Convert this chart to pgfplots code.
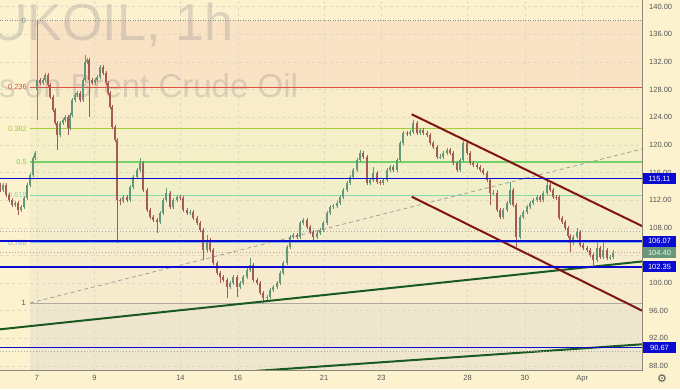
\documentclass[border=0pt]{standalone}
\usepackage{pgfplots}
\pgfplotsset{compat=1.18}
\usepackage{pgfplotstable}
\usepackage{fontspec}
\setmainfont{Liberation Sans}
\newfontfamily\symfont{DejaVu Sans}
\definecolor{bgc}{RGB}{253,242,206}
\definecolor{bA}{RGB}{250,226,196}
\definecolor{bB}{RGB}{248,237,200}
\definecolor{bC}{RGB}{244,239,198}
\definecolor{bD}{RGB}{241,239,200}
\definecolor{bE}{RGB}{244,237,204}
\definecolor{bF}{RGB}{246,235,205}
\definecolor{bG}{RGB}{239,230,207}
\definecolor{gridc}{RGB}{226,216,192}
\definecolor{axc}{RGB}{140,135,120}
\definecolor{labc}{RGB}{85,85,85}
\definecolor{upc}{RGB}{100,150,120}
\definecolor{dnc}{RGB}{165,90,85}
\definecolor{lvl0}{RGB}{140,140,140}
\definecolor{lvlA}{RGB}{220,80,70}
\definecolor{lvlB}{RGB}{165,205,55}
\definecolor{lvlC}{RGB}{115,210,105}
\definecolor{lvlD}{RGB}{135,220,170}
\definecolor{lvlE}{RGB}{120,185,235}
\definecolor{lvlF}{RGB}{175,170,160}
\definecolor{bluel}{RGB}{10,10,210}
\definecolor{greenl}{RGB}{25,90,35}
\definecolor{redl}{RGB}{130,20,20}
\definecolor{dashc}{RGB}{160,160,160}
\definecolor{dotc}{RGB}{170,170,165}
\definecolor{curc}{RGB}{105,152,122}
\definecolor{wmc}{RGB}{120,123,134}

\pgfplotstableread{
d o h l c
-1.289 114.20 114.55 113.12 113.47
-1.185 113.47 114.55 113.12 114.20
-1.080 114.20 114.55 112.40 112.75
-0.976 112.75 113.10 111.68 112.03
-0.871 112.03 112.38 110.95 111.30
-0.767 111.30 111.94 110.95 111.59
-0.662 111.59 111.94 109.90 110.58
-0.557 110.58 111.36 110.23 111.01
-0.453 111.01 112.67 110.66 112.32
-0.348 112.32 114.55 111.97 114.20
-0.244 114.20 115.99 113.85 115.64
-0.139 115.64 118.45 115.29 118.10
-0.070 118.10 119.18 117.75 118.83
0.000 127.95 138.08 123.60 129.39
0.105 129.39 129.74 128.61 128.96
0.209 128.96 129.74 128.61 129.39
0.279 129.39 130.47 129.04 130.12
0.383 130.12 130.47 128.32 128.67
0.453 128.67 129.02 126.58 126.93
0.557 126.93 127.28 124.70 125.05
0.627 125.05 125.40 122.82 123.17
0.697 123.17 123.52 119.26 121.43
0.801 121.43 123.52 121.08 123.17
0.906 123.17 123.95 122.82 123.60
0.976 123.60 124.39 123.25 124.04
1.080 124.04 124.39 121.43 122.45
1.150 122.45 124.68 122.10 124.33
1.220 124.33 126.85 123.98 126.50
1.324 126.50 127.57 126.15 127.22
1.394 127.22 127.86 126.87 127.51
1.498 127.51 127.86 126.15 126.50
1.603 126.50 129.74 126.15 129.39
1.672 129.39 133.01 129.04 132.00
1.742 132.00 132.64 131.65 132.29
1.812 132.29 132.64 124.04 129.39
1.916 129.39 129.74 128.61 128.96
2.021 128.96 129.74 128.61 129.39
2.091 129.39 130.18 129.04 129.83
2.195 129.83 131.62 129.48 131.27
2.300 131.27 131.62 130.06 130.41
2.404 130.41 130.76 128.61 128.96
2.474 128.96 129.31 127.16 127.51
2.544 127.51 127.86 125.13 125.48
2.613 125.48 125.83 122.24 122.59
2.718 122.59 122.94 120.36 120.71
2.787 120.71 121.06 105.80 112.03
2.892 112.03 112.38 111.30 111.90
2.997 111.90 112.81 111.55 112.46
3.136 112.46 112.81 111.68 112.03
3.240 112.03 114.26 111.68 113.91
3.345 113.91 115.70 113.56 115.35
3.484 115.35 116.72 115.00 116.37
3.589 116.37 118.10 116.02 117.38
3.693 117.38 117.73 113.12 113.47
3.833 113.47 113.82 110.23 110.58
3.937 110.58 110.93 109.22 109.57
4.042 109.57 109.92 108.78 109.13
4.181 109.13 109.48 107.25 108.84
4.286 108.84 110.49 108.49 110.14
4.390 110.14 112.38 109.79 112.03
4.495 112.03 113.76 111.68 113.04
4.634 113.04 113.39 110.66 111.01
4.739 111.01 112.38 110.66 112.03
4.878 112.03 112.81 111.68 112.46
4.983 112.46 112.81 111.97 112.32
5.087 112.32 112.67 110.23 110.58
5.226 110.58 110.93 109.79 110.14
5.331 110.14 110.64 109.79 110.29
5.436 110.29 110.64 109.07 109.42
5.575 109.42 109.77 108.35 108.70
5.679 108.70 109.05 107.33 107.68
5.784 107.68 108.03 103.34 104.79
5.923 104.79 106.96 104.44 106.24
6.028 106.24 106.59 104.44 104.79
6.132 104.79 105.14 102.56 102.91
6.272 102.91 103.26 101.11 101.46
6.376 101.46 101.81 100.01 100.88
6.481 100.88 101.23 100.10 100.45
6.620 100.45 100.80 97.84 99.44
6.725 99.44 100.36 99.09 100.01
6.829 100.01 101.23 99.66 100.88
6.969 100.88 101.23 97.99 99.44
7.073 99.44 100.36 99.09 100.01
7.178 100.01 101.23 99.66 100.88
7.317 100.88 102.25 100.53 101.90
7.422 101.90 103.63 101.55 102.62
7.526 102.62 102.97 100.10 100.45
7.666 100.45 100.80 99.66 100.01
7.770 100.01 100.36 98.22 98.57
7.875 98.57 98.92 97.12 97.84
8.014 97.84 98.34 97.49 97.99
8.118 97.99 99.35 97.64 99.00
8.223 99.00 99.79 98.65 99.44
8.362 99.44 100.36 99.09 100.01
8.467 100.01 101.81 99.66 101.46
8.571 101.46 103.26 101.11 102.91
8.711 102.91 105.57 102.56 105.22
8.815 105.22 107.02 104.87 106.67
8.920 106.67 107.31 106.32 106.96
9.059 106.96 107.31 106.32 106.67
9.164 106.67 109.05 106.32 108.70
9.268 108.70 109.42 108.35 109.13
9.408 109.13 109.48 107.77 108.12
9.512 108.12 108.47 107.05 107.40
9.617 107.40 107.75 105.95 106.67
9.756 106.67 107.60 106.32 107.25
9.861 107.25 108.03 106.90 107.68
9.965 107.68 109.05 107.33 108.70
10.105 108.70 110.49 108.35 110.14
10.209 110.14 111.36 109.79 111.01
10.314 111.01 111.50 110.66 111.15
10.453 111.15 111.94 110.80 111.59
10.557 111.59 112.81 111.24 112.46
10.662 112.46 113.82 112.11 113.47
10.801 113.47 114.84 113.12 114.49
10.906 114.49 115.70 114.14 115.35
11.010 115.35 116.72 115.00 116.37
11.150 116.37 118.17 116.02 117.82
11.254 117.82 119.26 117.47 118.83
11.359 118.83 119.18 117.90 118.25
11.498 118.25 118.60 114.14 114.49
11.603 114.49 115.27 114.14 114.92
11.707 114.92 116.80 114.57 115.93
11.847 115.93 116.28 114.28 114.63
11.951 114.63 114.98 114.14 114.49
12.056 114.49 115.27 114.14 114.92
12.195 114.92 116.72 114.57 116.37
12.300 116.37 117.15 116.02 116.80
12.404 116.80 117.15 116.02 116.37
12.544 116.37 118.17 116.02 117.82
12.648 117.82 120.63 117.47 120.28
12.753 120.28 122.07 119.93 121.72
12.892 121.72 122.07 121.25 121.60
12.997 121.60 122.22 121.25 121.87
13.101 121.87 123.60 121.52 123.17
13.240 123.17 123.52 121.37 121.72
13.345 121.72 122.51 121.37 122.16
13.449 122.16 122.51 121.37 121.72
13.589 121.72 122.07 121.08 121.43
13.693 121.43 121.78 119.93 120.28
13.798 120.28 120.63 119.35 119.70
13.937 119.70 120.05 117.90 118.25
14.042 118.25 118.65 117.90 118.30
14.146 118.30 119.18 117.95 118.83
14.286 118.83 119.61 118.48 119.26
14.390 119.26 119.61 118.48 118.83
14.495 118.83 119.18 117.03 117.38
14.634 117.38 117.73 116.02 116.37
14.739 116.37 118.17 116.02 117.82
14.843 117.82 120.63 117.47 120.28
14.983 120.28 120.63 118.48 118.83
15.087 118.83 119.18 117.03 117.38
15.192 117.38 117.73 116.74 117.09
15.331 117.09 117.44 116.45 116.80
15.436 116.80 117.15 116.02 116.37
15.540 116.37 116.72 115.58 115.93
15.679 115.93 116.28 114.57 114.92
15.784 114.92 115.27 111.30 113.04
15.889 113.04 113.45 112.69 113.10
16.028 113.10 113.45 110.23 110.58
16.132 110.58 110.93 109.22 109.57
16.237 109.57 110.93 109.22 110.58
16.376 110.58 111.94 110.23 111.59
16.481 111.59 114.63 111.24 113.47
16.585 113.47 113.82 110.95 111.30
16.690 111.30 111.65 105.22 106.67
16.829 106.67 109.92 106.32 109.57
16.934 109.57 110.64 109.22 110.29
17.073 110.29 111.36 109.94 111.01
17.178 111.01 111.94 110.66 111.59
17.282 111.59 112.38 111.24 112.03
17.422 112.03 112.81 111.68 112.46
17.526 112.46 112.81 111.68 112.03
17.631 112.03 113.39 111.68 113.04
17.770 113.04 114.92 112.69 114.20
17.875 114.20 114.55 113.12 113.47
17.979 113.47 113.82 112.11 112.46
18.084 112.46 112.81 112.05 112.40
18.188 112.40 112.75 109.07 109.42
18.293 109.42 109.77 108.49 108.84
18.397 108.84 109.19 107.62 107.97
18.502 107.97 108.32 106.47 106.82
18.571 106.82 107.17 104.50 105.80
18.676 105.80 107.02 105.45 106.67
18.815 106.67 107.97 106.32 107.40
18.920 107.40 107.75 105.16 105.51
19.024 105.51 105.86 104.73 105.08
19.164 105.08 105.43 104.44 104.79
19.268 104.79 105.14 103.72 104.07
19.373 104.07 104.42 102.62 103.34
19.512 103.34 105.95 102.99 105.08
19.617 105.08 105.43 103.43 103.78
19.721 103.78 105.95 103.43 104.79
19.861 104.79 105.14 103.28 103.63
19.965 103.63 104.13 103.28 103.78
20.070 103.78 104.75 103.43 104.40
}\candles

\begin{document}
\begin{tikzpicture}
\fill[bgc] (0,-19pt) rectangle (680pt,370pt);
\begin{axis}[
  at={(0,0)}, anchor=south west,
  scale only axis, width=642pt, height=370pt,
  xmin=-1.289, xmax=21.08, ymin=87.42, ymax=140.97,
  axis line style={draw=none},
  yticklabel pos=right, xticklabel pos=bottom,
  xtick={0,2,5,7,10,12,15,17,19},
  xticklabels={7,9,14,16,21,23,28,30,Apr},
  ytick={88,92,96,100,104,108,112,116,120,124,128,132,136,140},
  yticklabels={88.00,92.00,96.00,100.00,104.00,108.00,112.00,116.00,120.00,124.00,128.00,132.00,136.00,140.00},
  major tick length=0pt, tick style={draw=none},
  tick label style={font=\fontsize{7.5}{9}\selectfont, text=labc, inner sep=0pt},
  xticklabel style={anchor=north, yshift=-5pt},
  yticklabel style={anchor=west, xshift=7pt},
  clip mode=individual,
]
% fib bands
\fill[bA] (axis cs:-0.244,128.33) rectangle (axis cs:21.08,137.98);
\fill[bB] (axis cs:-0.244,122.36) rectangle (axis cs:21.08,128.33);
\fill[bC] (axis cs:-0.244,117.53) rectangle (axis cs:21.08,122.36);
\fill[bD] (axis cs:-0.244,112.70) rectangle (axis cs:21.08,117.53);
\fill[bE] (axis cs:-0.244,105.83) rectangle (axis cs:21.08,112.70);
\fill[bF] (axis cs:-0.244,97.08) rectangle (axis cs:21.08,105.83);
\fill[bG] (axis cs:-0.244,87.42) rectangle (axis cs:21.08,97.08);
% grid
\pgfplotsinvokeforeach{0,2,5,7,10,12,15,17,19}{
  \draw[gridc, dash pattern=on 3pt off 3pt, line width=0.5pt] (axis cs:#1,87.42) -- (axis cs:#1,140.97);}
\pgfplotsinvokeforeach{88,92,96,100,104,108,112,116,120,124,128,132,136,140}{
  \draw[gridc, dash pattern=on 3pt off 3pt, line width=0.5pt] (axis cs:-1.289,#1) -- (axis cs:21.08,#1);}
% dotted price lines
\addplot[dotc, dash pattern=on 1pt off 2pt, line width=0.6pt] coordinates {(-1.289,107.45) (21.08,107.45)};
\addplot[dotc, dash pattern=on 1pt off 2pt, line width=0.6pt] coordinates {(-1.289,104.40) (21.08,104.40)};
\addplot[dotc, dash pattern=on 1pt off 2pt, line width=0.6pt] coordinates {(-1.289,90.10) (21.08,90.10)};
% watermark
\node[anchor=base west, inner sep=0pt, text=wmc, text opacity=0.25, font=\fontsize{52}{52}\selectfont] at (axis cs:-1.638,135.04) {UKOIL, 1h};
\node[anchor=base west, inner sep=0pt, text=wmc, text opacity=0.25, font=\fontsize{33}{33}\selectfont] at (axis cs:-3.693,126.79) {CFDs on Brent Crude Oil};
% fib levels
\addplot[lvl0, dash pattern=on 1pt off 1.5pt, line width=0.8pt] coordinates {(-1.289,137.98) (21.08,137.98)};
\addplot[lvlA, line width=0.9pt] coordinates {(-0.244,128.33) (21.08,128.33)};
\addplot[lvlB, line width=1pt] coordinates {(-0.244,122.36) (21.08,122.36)};
\addplot[lvlC, line width=1.5pt] coordinates {(-0.244,117.53) (21.08,117.53)};
\addplot[lvlD, line width=1.1pt] coordinates {(-0.244,112.70) (21.08,112.70)};
\addplot[lvlE, line width=1.3pt] coordinates {(-0.244,105.83) (21.08,105.83)};
\addplot[lvlF, line width=1pt] coordinates {(-0.244,97.08) (21.08,97.08)};
\begin{scope}[font=\fontsize{7.5}{9}\selectfont]
\node[anchor=east, text=lvl0, inner sep=0pt] at ([xshift=-4pt]axis cs:-0.244,137.98) {0};
\node[anchor=east, text=lvlA, inner sep=0pt] at ([xshift=-3pt]axis cs:-0.244,128.33) {0.236};
\node[anchor=east, text=lvlB, inner sep=0pt] at ([xshift=-3pt]axis cs:-0.244,122.36) {0.382};
\node[anchor=east, text=lvlC, inner sep=0pt] at ([xshift=-3pt]axis cs:-0.244,117.53) {0.5};
\node[anchor=east, text=lvlD, inner sep=0pt] at ([xshift=-3pt]axis cs:-0.244,112.70) {0.618};
\node[anchor=east, text=lvlE, inner sep=0pt] at ([xshift=-3pt]axis cs:-0.244,105.83) {0.786};
\node[anchor=east, text=labc, inner sep=0pt] at ([xshift=-4pt]axis cs:-0.244,97.08) {1};
\end{scope}
% dashed trend
\addplot[dashc, dash pattern=on 4pt off 3pt, line width=0.8pt] coordinates {(-0.244,97.12) (21.08,119.41)};
% candles: wicks and bodies as vertical segments
\addplot[upc, line width=0.5pt, mark=none, forget plot, quiver={u=0, v=\thisrow{h}-\thisrow{l}}]
  table[x=d, y expr={\thisrow{c}>=\thisrow{o} ? \thisrow{l} : nan}] {\candles};
\addplot[dnc, line width=0.5pt, mark=none, forget plot, quiver={u=0, v=\thisrow{h}-\thisrow{l}}]
  table[x=d, y expr={\thisrow{c}<\thisrow{o} ? \thisrow{l} : nan}] {\candles};
\addplot[upc, line width=1.5pt, line cap=butt, mark=none, forget plot, quiver={u=0, v=\thisrow{c}-\thisrow{o}}]
  table[x=d, y expr={\thisrow{c}>=\thisrow{o} ? \thisrow{o} : nan}] {\candles};
\addplot[dnc, line width=1.5pt, line cap=butt, mark=none, forget plot, quiver={u=0, v=\thisrow{o}-\thisrow{c}}]
  table[x=d, y expr={\thisrow{c}<\thisrow{o} ? \thisrow{c} : nan}] {\candles};
% trend lines
\addplot[greenl, line width=2pt] coordinates {(-1.289,93.31) (21.08,103.13)};
\addplot[greenl, line width=2pt] coordinates {(5.0,86.53) (21.08,91.14)};
\addplot[redl, line width=2pt] coordinates {(13.056,124.43) (21.08,108.26)};
\addplot[redl, line width=2pt] coordinates {(13.056,112.50) (21.08,96.01)};
% blue horizontal levels
\addplot[draw=bluel, line width=1.4pt] coordinates {(-1.289,115.11) (21.08,115.11)};
\addplot[draw=bluel, line width=1.4pt] coordinates {(-1.289,106.07) (21.08,106.07)};
\addplot[draw=bluel, line width=1.4pt] coordinates {(-1.289,102.35) (21.08,102.35)};
\addplot[draw=bluel, line width=1.4pt] coordinates {(-1.289,90.67) (21.08,90.67)};
% anchors for right labels
\coordinate (pA) at (axis cs:21.08,115.11);
\coordinate (pB) at (axis cs:21.08,106.07);
\coordinate (pC) at (axis cs:21.08,104.40);
\coordinate (pD) at (axis cs:21.08,102.35);
\coordinate (pE) at (axis cs:21.08,90.67);
\coordinate (pF) at (axis cs:21.08,90.10);
\end{axis}
\draw[dotc, dash pattern=on 1pt off 2pt, line width=0.6pt] (0,0 |- pF) -- (pF);
\draw[bluel, line width=1.6pt] (0,0 |- pE) -- (pE);
\draw[axc, line width=0.7pt] (0,0) -- (642pt,0) -- (642pt,370pt);
\begin{scope}[every node/.style={minimum width=33pt, minimum height=11pt, inner sep=0pt, font=\fontsize{7.5}{9}\selectfont, text=white}]
\node[fill=bluel] at ([xshift=17.5pt]pA) {115.11};
\node[fill=bluel] at ([xshift=17.5pt]pB) {106.07};
\node[fill=curc, text={rgb,255:red,235;green,245;blue,235}] at ([xshift=17.5pt]pC) {104.40};
\node[fill=bluel] at ([xshift=17.5pt]pD) {102.35};
\node[fill=bluel] at ([xshift=17.5pt]pE) {90.67};
\end{scope}
\node[text=labc, font=\symfont\fontsize{11}{11}\selectfont, inner sep=0pt] at (662pt,-8.5pt) {⚙};
\pgfresetboundingbox
\path[use as bounding box] (0,-19pt) rectangle (680pt,370pt);
\end{tikzpicture}
\end{document}
